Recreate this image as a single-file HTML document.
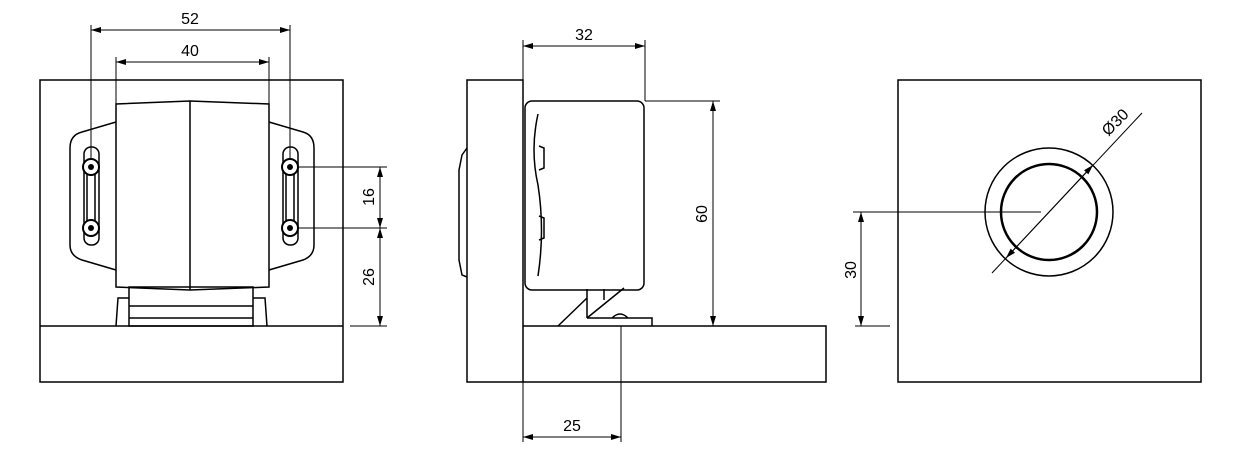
<!DOCTYPE html>
<html><head><meta charset="utf-8"><style>html,body{margin:0;background:#fff}svg{display:block}</style></head><body>
<svg width="1241" height="468" viewBox="0 0 1241 468" xmlns="http://www.w3.org/2000/svg" font-family="Liberation Sans, sans-serif" font-size="16">
<defs>
<marker id="a" viewBox="0 0 10 6" refX="10" refY="3" markerWidth="10" markerHeight="6" orient="auto-start-reverse" markerUnits="userSpaceOnUse"><path d="M0,0 L10,3 L0,6 z" fill="#000"/></marker>
</defs>
<g fill="none" stroke="#000" stroke-width="1.5">
<rect x="40" y="80" width="303" height="302"/>
<line x1="40" y1="326" x2="343" y2="326"/>
<path d="M116,104 L190,101 L269,104 L269,287 L190,290 L116,287 Z"/>
<line x1="190" y1="101" x2="190" y2="290"/>
<path d="M116,122 L82,132 Q70,135 70,148 L70,245 Q70,256 82,260 L116,270"/>
<path d="M269,122 L303,132 Q314,135 314,148 L314,245 Q314,256 303,260 L269,270"/>
<rect x="84" y="147" width="15" height="98" rx="7"/>
<rect x="283" y="147" width="15" height="98" rx="7"/>
<line x1="87" y1="167" x2="87" y2="228"/><line x1="95" y1="167" x2="95" y2="228"/>
<line x1="286" y1="167" x2="286" y2="228"/><line x1="294" y1="167" x2="294" y2="228"/>
<rect x="129" y="287" width="124" height="39"/>
<line x1="129" y1="306" x2="253" y2="306"/>
<path d="M116,326 L118,298 L129,298 M253,298 L265,298 L267,326"/>
<path d="M129,318 L253,318"/>
</g>
<g fill="#fff" stroke="#000" stroke-width="2">
<circle cx="91" cy="167" r="8"/><circle cx="91" cy="228" r="8"/>
<circle cx="290" cy="167" r="8"/><circle cx="290" cy="228" r="8"/>
</g>
<g fill="#000"><circle cx="91" cy="167" r="3"/><circle cx="91" cy="228" r="3"/><circle cx="290" cy="167" r="3"/><circle cx="290" cy="228" r="3"/></g>
<g stroke="#000" stroke-width="1" fill="none">
<line x1="91" y1="25" x2="91" y2="160"/><line x1="290" y1="25" x2="290" y2="160"/>
<line x1="91" y1="30" x2="290" y2="30" marker-start="url(#a)" marker-end="url(#a)"/>
<line x1="116" y1="57" x2="116" y2="104"/><line x1="269" y1="57" x2="269" y2="104"/>
<line x1="116" y1="62" x2="269" y2="62" marker-start="url(#a)" marker-end="url(#a)"/>
<line x1="298" y1="167" x2="387" y2="167"/><line x1="298" y1="228" x2="387" y2="228"/><line x1="350" y1="326" x2="387" y2="326"/>
<line x1="380" y1="167" x2="380" y2="228" marker-start="url(#a)" marker-end="url(#a)"/>
<line x1="380" y1="228" x2="380" y2="326" marker-start="url(#a)" marker-end="url(#a)"/>
</g>
<g fill="#000">
<text x="190" y="24" text-anchor="middle">52</text>
<text x="190" y="56" text-anchor="middle">40</text>
<text transform="translate(374,197) rotate(-90)" text-anchor="middle">16</text>
<text transform="translate(374,277) rotate(-90)" text-anchor="middle">26</text>
</g>
<g fill="none" stroke="#000" stroke-width="1.5">
<rect x="467" y="80" width="56" height="302"/>
<path d="M523,326 L826,326 L826,382 L523,382"/>
<path d="M467,148 L462,155 L459,170 L459,260 L462,275 L467,277"/>
<rect x="525" y="101" width="119" height="189" rx="7"/>
<path d="M538,114 Q530,150 538,185 Q545,230 538,276"/>
<path d="M539,146 L544,148 L544,168 L539,170 M539,216 L544,218 L544,238 L539,240"/>
<path d="M587,289 L587,318 M604,289 L604,300 M587,318 L624,288 M558,326 L587,298 M587,318 L652,318 L652,326 M612,318 Q620,310 628,318"/>
</g>
<g stroke="#000" stroke-width="1" fill="none">
<line x1="523" y1="40" x2="523" y2="80"/><line x1="645" y1="40" x2="645" y2="101"/>
<line x1="523" y1="46" x2="645" y2="46" marker-start="url(#a)" marker-end="url(#a)"/>
<line x1="645" y1="101" x2="720" y2="101"/>
<line x1="713" y1="101" x2="713" y2="326" marker-start="url(#a)" marker-end="url(#a)"/>
<line x1="523" y1="382" x2="523" y2="442"/><line x1="621" y1="326" x2="621" y2="442"/>
<line x1="523" y1="437" x2="621" y2="437" marker-start="url(#a)" marker-end="url(#a)"/>
</g>
<g fill="#000">
<text x="584" y="40" text-anchor="middle">32</text>
<text transform="translate(707,214) rotate(-90)" text-anchor="middle">60</text>
<text x="572" y="431" text-anchor="middle">25</text>
</g>
<g fill="none" stroke="#000">
<rect x="898" y="80" width="303" height="302" stroke-width="1.5"/>
<circle cx="1049" cy="212" r="64" stroke-width="1.5"/>
<circle cx="1049" cy="212" r="48" stroke-width="2.5"/>
<line x1="853" y1="212" x2="1041" y2="212" stroke-width="1"/>
<line x1="855" y1="326" x2="890" y2="326" stroke-width="1"/>
<line x1="861" y1="212" x2="861" y2="326" stroke-width="1" marker-start="url(#a)" marker-end="url(#a)"/>
<line x1="992" y1="273" x2="1142" y2="113" stroke-width="1"/>
<line x1="1006" y1="258" x2="1093" y2="165" stroke-width="1" marker-start="url(#a)" marker-end="url(#a)"/>
</g>
<g fill="#000">
<text transform="translate(856,270) rotate(-90)" text-anchor="middle">30</text>
<text transform="translate(1119,126) rotate(-45)" text-anchor="middle">Ø30</text>
</g>
</svg>
</body></html>
